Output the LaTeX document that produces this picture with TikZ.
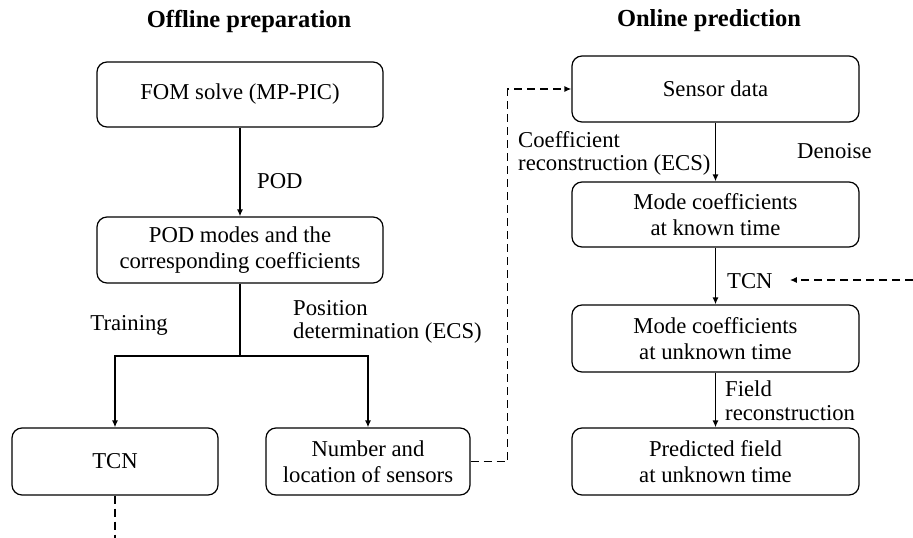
\documentclass[tikz,border=0pt]{standalone}
\usepackage{fontspec}
\setmainfont{Liberation Serif}
\usetikzlibrary{arrows.meta}
\begin{document}
\begin{tikzpicture}[x=1pt,y=-1pt,
  box/.style={draw, line width=1.2pt, rounded corners=10pt, align=center,
    inner sep=0pt, font=\fontsize{22.7}{26.5}\selectfont},
  lab/.style={inner sep=0pt, align=left, font=\fontsize{22.7}{23.5}\selectfont},
  ttl/.style={inner sep=0pt, font=\fontsize{24.5}{28}\selectfont\bfseries},
  arr/.style={line width=1.5pt, -{Latex[length=7pt,width=6pt]}},
  darr/.style={line width=1.5pt, dash pattern=on 8pt off 5pt, -{Latex[length=7pt,width=6pt]}},
  dln/.style={line width=1.5pt, dash pattern=on 8pt off 5pt}]
\useasboundingbox (0,0) rectangle (913,538);
% titles
\node[ttl] (t1) at (249,21) {Offline preparation};
\node[ttl] (t2) at (709,21) {Online prediction};
% left column boxes
\node[box, minimum width=286pt, minimum height=65pt] (fom) at (240,94.5) {FOM solve (MP-PIC)};
\node[box, minimum width=286pt, minimum height=66pt] (pod) at (240,250) {POD modes and the\\corresponding coefficients};
\node[box, minimum width=206pt, minimum height=67pt] (tcn) at (115,461.5) {TCN};
\node[box, minimum width=204pt, minimum height=67pt] (num) at (368,461.5) {Number and\\location of sensors};
% right column boxes
\node[box, minimum width=287pt, minimum height=66pt] (sen) at (715.5,89) {Sensor data};
\node[box, minimum width=287pt, minimum height=65pt] (mk) at (715.5,214.5) {Mode coefficients\\at known time};
\node[box, minimum width=287pt, minimum height=67pt] (mu) at (715.5,338.5) {Mode coefficients\\at unknown time};
\node[box, minimum width=287pt, minimum height=67pt] (pf) at (715.5,461.5) {Predicted field\\at unknown time};
% labels
\node[lab, anchor=base west] (lpod) at (257,188) {POD};
\node[lab, anchor=base east] (ltr) at (168,330) {Training};
\node[lab, anchor=north west] (lpos) at (293,300) {Position\\determination (ECS)};
\node[lab, anchor=north west] (lcoef) at (518,131) {Coefficient\\reconstruction (ECS)};
\node[lab, anchor=base west] (lden) at (797,158) {Denoise};
\node[lab, anchor=base west] (ltcn) at (727,288) {TCN};
\node[lab, anchor=north west] (lfld) at (725,381) {Field\\reconstruction};
% connectors
\coordinate (junc) at (240,356);
\draw[arr] (fom.south) -- (pod.north);
\draw[line width=1.5pt] (pod.south) -- (junc);
\draw[arr] (junc) -| (tcn.north);
\draw[arr] (junc) -| (num.north);
\draw[arr] (sen.south) -- (mk.north);
\draw[arr] (mk.south) -- (mu.north);
\draw[arr] (mu.south) -- (pf.north);
\draw[darr] (num.east) -- ++(37,0) |- (sen.west);
\coordinate (tcnend) at (115,538);
\draw[dln] (tcn.south) -- (tcnend);
\coordinate (rin) at (913,280);
\draw[darr, shorten >=17pt] (rin) -- (ltcn.east |- rin);
\end{tikzpicture}
\end{document}
